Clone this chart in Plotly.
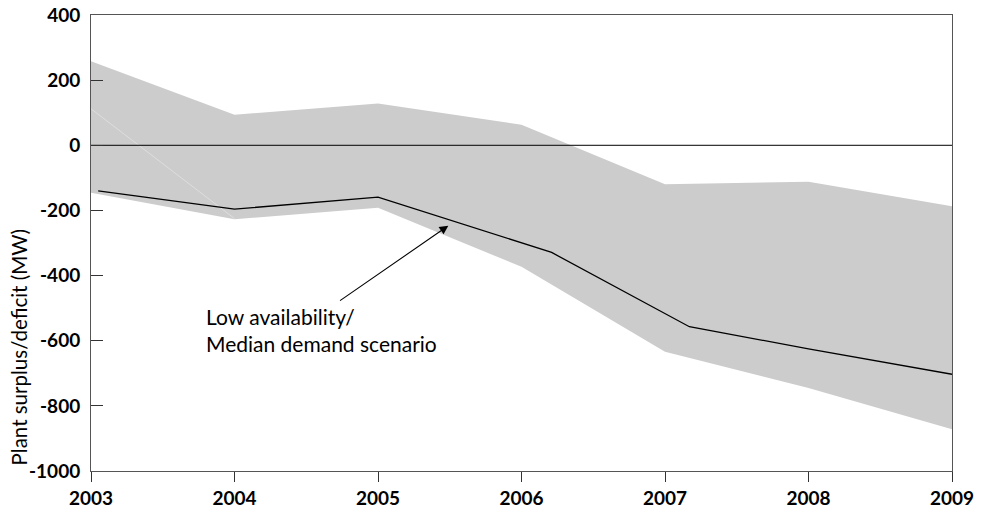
import plotly.graph_objects as go

# Data
band_years = [2003, 2004, 2005, 2006, 2007, 2008, 2009]
band_upper = [258, 94, 128, 63, -120, -112, -187]
band_lower = [-146, -227, -192, -373, -634, -745, -872]

median_years = [2003.05, 2004, 2005, 2006.21, 2007.17, 2008, 2009]
median_values = [-140, -196, -159, -329, -557, -625, -703]

seam_years = [2003, 2004]
seam_values = [112, -225]

x_ticks = [2003, 2004, 2005, 2006, 2007, 2008, 2009]
y_ticks = [-1000, -800, -600, -400, -200, 0, 200, 400]
y_ticktext = ["-1000", "-800", "-600", "-400", "-200", "0", "200", "400"]

FONT = "Lato"

fig = go.Figure()

fig.add_trace(go.Scatter(
    x=band_years + band_years[::-1],
    y=band_upper + band_lower[::-1],
    fill="toself", fillcolor="#cccccc",
    line=dict(width=0, color="#cccccc"),
    mode="lines", hoverinfo="skip", showlegend=False,
))
fig.add_trace(go.Scatter(
    x=seam_years, y=seam_values, mode="lines",
    line=dict(color="#e2e2e2", width=0.8),
    hoverinfo="skip", showlegend=False,
))
fig.add_trace(go.Scatter(
    x=[2003, 2009], y=[0, 0], mode="lines",
    line=dict(color="black", width=1),
    hoverinfo="skip", showlegend=False,
))
fig.add_trace(go.Scatter(
    x=median_years, y=median_values, mode="lines",
    line=dict(color="black", width=1.3),
    showlegend=False,
))

# Arrow
fig.add_annotation(
    x=2005.49, y=-247, ax=2004.725, ay=-480,
    xref="x", yref="y", axref="x", ayref="y",
    text="", showarrow=True, arrowhead=2, arrowsize=1.6,
    arrowwidth=1.1, arrowcolor="black",
)
# Label
fig.add_annotation(
    x=2003.787, y=-567, xref="x", yref="y",
    text="Low availability/<br>Median demand scenario",
    showarrow=False, xanchor="left", yanchor="middle", align="left",
    font=dict(family=FONT, size=21, color="black"),
)
# Y axis title
fig.add_annotation(
    x=-0.0836, y=0.271, xref="paper", yref="paper",
    text="Plant surplus/deficit (MW)", textangle=-90,
    showarrow=False, xanchor="center", yanchor="middle",
    font=dict(family=FONT, size=20.5, color="black"),
)

fig.update_layout(
    width=983, height=511,
    margin=dict(l=91, r=31, t=15, b=40, autoexpand=False),
    plot_bgcolor="white", paper_bgcolor="white",
    font=dict(family=FONT, size=19, color="black"),
)
fig.update_xaxes(
    range=[2003, 2009], tickvals=x_ticks, ticktext=[str(v) for v in x_ticks],
    showgrid=False, zeroline=False, automargin=False,
    showline=True, linecolor="#555555", linewidth=1, mirror=True,
    ticks="outside", ticklen=10, tickcolor="#333333", tickwidth=1,
    ticklabeloverflow="allow",
    tickfont=dict(family=FONT, size=19, color="black", weight="bold"),
)
fig.update_yaxes(
    range=[-1000, 400], tickvals=y_ticks, ticktext=y_ticktext,
    showgrid=False, zeroline=False, automargin=False,
    showline=True, linecolor="#555555", linewidth=1, mirror=True,
    ticks="inside", ticklen=12, tickcolor="#333333", tickwidth=1,
    ticklabelstandoff=6, ticklabeloverflow="allow",
    tickfont=dict(family=FONT, size=19, color="black", weight="bold"),
)

# remove the browser's default 8px body margin so the figure fills the window
fig.write_html(
    "out.html",
    config={"displayModeBar": False},
    post_script="document.body.style.margin='0';document.body.style.overflow='hidden';",
)
